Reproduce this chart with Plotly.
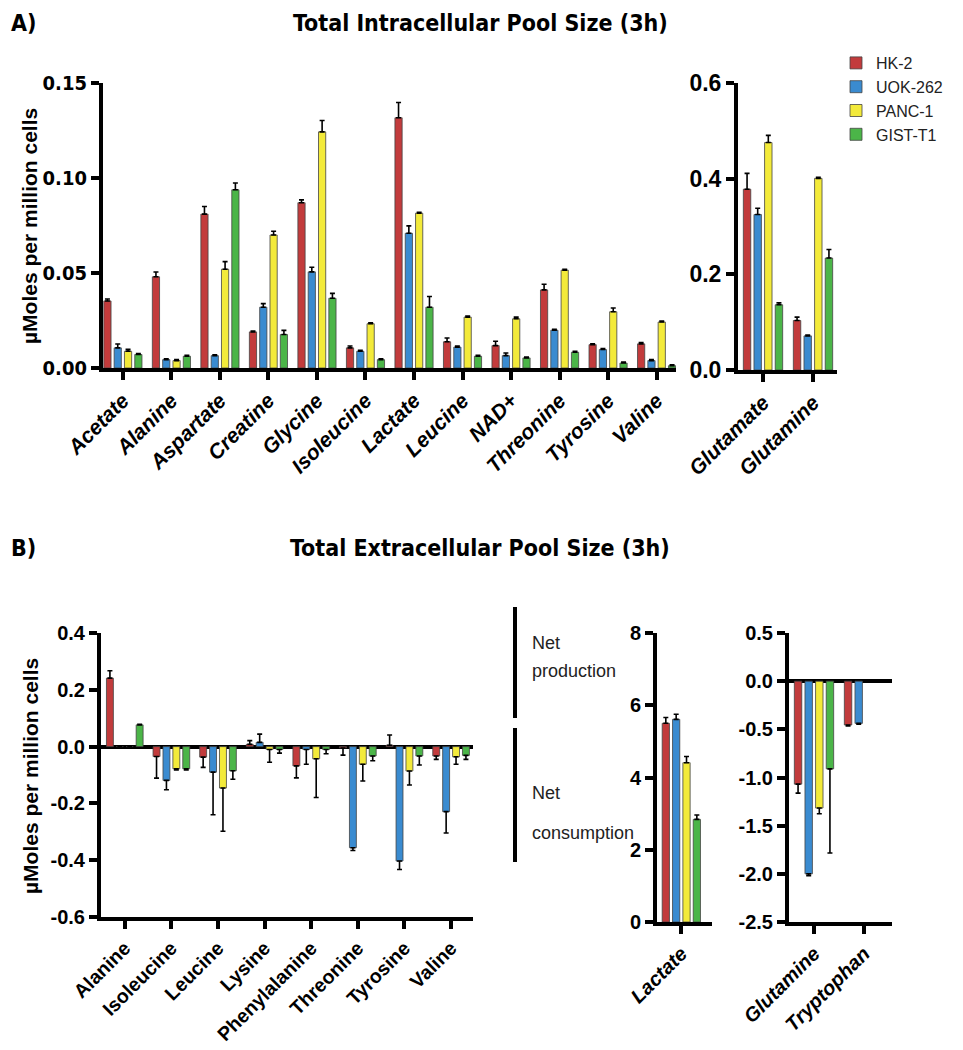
import plotly.graph_objects as go

# page body has an 8px default margin; keep the figure inside the window
OFF = 8
W, H = 963 - 2 * OFF, 1050 - 2 * OFF

series = ["HK-2", "UOK-262", "PANC-1", "GIST-T1"]
colors = ["#c23b3c", "#3a8bd0", "#f3ea3a", "#4bb548"]

# ---------- Panel A: intracellular ----------
cats_a = ["Acetate", "Alanine", "Aspartate", "Creatine", "Glycine", "Isoleucine",
          "Lactate", "Leucine", "NAD+", "Threonine", "Tyrosine", "Valine"]
hk2_a = [0.0353, 0.048, 0.081, 0.019, 0.087, 0.0106, 0.1317, 0.0138, 0.0118, 0.0411, 0.0123, 0.0127]
hk2_a_err = [0.001, 0.0025, 0.004, 0.0005, 0.0015, 0.001, 0.008, 0.002, 0.0023, 0.003, 0.0005, 0.0007]
uok_a = [0.0106, 0.0044, 0.0065, 0.032, 0.0506, 0.0088, 0.0709, 0.011, 0.0065, 0.0199, 0.0097, 0.0039]
uok_a_err = [0.002, 0.0005, 0.0005, 0.0019, 0.0024, 0.0005, 0.0039, 0.0005, 0.0014, 0.0005, 0.0005, 0.0005]
panc_a = [0.0088, 0.0039, 0.052, 0.070, 0.1243, 0.0233, 0.0815, 0.0268, 0.0259, 0.0515, 0.0296, 0.0242]
panc_a_err = [0.001, 0.0005, 0.004, 0.002, 0.006, 0.0005, 0.0005, 0.0005, 0.0009, 0.0005, 0.002, 0.0005]
gist_a = [0.0071, 0.0062, 0.0938, 0.0176, 0.0367, 0.0044, 0.032, 0.0062, 0.0053, 0.0083, 0.0026, 0.0012]
gist_a_err = [0.0005, 0.0005, 0.0036, 0.0022, 0.0026, 0.0005, 0.0056, 0.0005, 0.0005, 0.0005, 0.0005, 0.0005]

cats_a2 = ["Glutamate", "Glutamine"]
hk2_a2 = [0.378, 0.1035]
hk2_a2_err = [0.033, 0.007]
uok_a2 = [0.325, 0.0713]
uok_a2_err = [0.013, 0.002]
panc_a2 = [0.4755, 0.4007]
panc_a2_err = [0.015, 0.002]
gist_a2 = [0.1364, 0.234]
gist_a2_err = [0.004, 0.018]

# ---------- Panel B: extracellular ----------
cats_b = ["Alanine", "Isoleucine", "Leucine", "Lysine", "Phenylalanine", "Threonine", "Tyrosine", "Valine"]
hk2_b = [0.241, -0.035, -0.037, 0.008, -0.068, -0.005, 0.005, -0.033]
hk2_b_err = [0.026, 0.076, 0.036, 0.013, 0.042, 0.025, 0.036, 0.012]
uok_b = [0.0, -0.119, -0.09, 0.015, -0.01, -0.356, -0.403, -0.229]
uok_b_err = [0.0, 0.033, 0.15, 0.029, 0.052, 0.010, 0.030, 0.075]
panc_b = [0.0, -0.078, -0.146, -0.01, -0.043, -0.062, -0.086, -0.036]
panc_b_err = [0.0, 0.004, 0.152, 0.045, 0.136, 0.059, 0.049, 0.026]
gist_b = [0.0765, -0.078, -0.085, -0.01, -0.01, -0.033, -0.033, -0.031]
gist_b_err = [0.002, 0.004, 0.030, 0.013, 0.015, 0.017, 0.032, 0.014]

cats_b2 = ["Lactate"]
hk2_b2 = [5.50]
hk2_b2_err = [0.16]
uok_b2 = [5.61]
uok_b2_err = [0.14]
panc_b2 = [4.41]
panc_b2_err = [0.17]
gist_b2 = [2.84]
gist_b2_err = [0.12]

cats_b3 = ["Glutamine", "Tryptophan"]
hk2_b3 = [-1.069, -0.455]
hk2_b3_err = [0.093, 0.01]
uok_b3 = [-2.0, -0.438]
uok_b3_err = [0.02, 0.01]
panc_b3 = [-1.317, None]
panc_b3_err = [0.059, 0.0]
gist_b3 = [-0.91, None]
gist_b3_err = [0.873, 0.0]

# tick labels
yt_a = [0.0, 0.05, 0.10, 0.15]
yt_a_txt = ["0.00", "0.05", "0.10", "0.15"]
yt_a2 = [0.0, 0.2, 0.4, 0.6]
yt_a2_txt = ["0.0", "0.2", "0.4", "0.6"]
yt_b = [-0.6, -0.4, -0.2, 0.0, 0.2, 0.4]
yt_b_txt = ["-0.6", "-0.4", "-0.2", "0.0", "0.2", "0.4"]
yt_b2 = [0, 2, 4, 6, 8]
yt_b2_txt = ["0", "2", "4", "6", "8"]
yt_b3 = [-2.5, -2.0, -1.5, -1.0, -0.5, 0.0, 0.5]
yt_b3_txt = ["-2.5", "-2.0", "-1.5", "-1.0", "-0.5", "0.0", "0.5"]

ARIAL = "Liberation Sans, Arial, sans-serif"
NARROW = "DejaVu Sans Condensed, Liberation Sans Narrow, Arial Narrow, sans-serif"


def px_x(p):
    return (p - OFF) / W


def px_y(p):
    return 1 - (p - OFF) / H


def err_dict(vals, errs):
    plus, minus = [], []
    for v, e in zip(vals, errs):
        if v is None:
            plus.append(0); minus.append(0)
        elif v >= 0:
            plus.append(e); minus.append(0)
        else:
            plus.append(0); minus.append(e)
    return dict(type="data", symmetric=False, array=plus, arrayminus=minus,
                color="black", thickness=1.6, width=2.5)


fig = go.Figure()

groups = [
    ("x", "y", cats_a, [(hk2_a, hk2_a_err), (uok_a, uok_a_err), (panc_a, panc_a_err), (gist_a, gist_a_err)], True),
    ("x2", "y2", cats_a2, [(hk2_a2, hk2_a2_err), (uok_a2, uok_a2_err), (panc_a2, panc_a2_err), (gist_a2, gist_a2_err)], False),
    ("x3", "y3", cats_b, [(hk2_b, hk2_b_err), (uok_b, uok_b_err), (panc_b, panc_b_err), (gist_b, gist_b_err)], False),
    ("x4", "y4", cats_b2, [(hk2_b2, hk2_b2_err), (uok_b2, uok_b2_err), (panc_b2, panc_b2_err), (gist_b2, gist_b2_err)], False),
    ("x5", "y5", cats_b3, [(hk2_b3, hk2_b3_err), (uok_b3, uok_b3_err), (panc_b3, panc_b3_err), (gist_b3, gist_b3_err)], False),
]

for xa, ya, cats, data, show in groups:
    for i, (vals, errs) in enumerate(data):
        fig.add_trace(go.Bar(
            x=cats, y=vals, name=series[i], xaxis=xa, yaxis=ya,
            marker=dict(color=colors[i], line=dict(color="#444", width=0.8)),
            error_y=err_dict(vals, errs), showlegend=show, legendgroup=series[i],
            offsetgroup=str(i),
        ))

axis_common = dict(showline=True, linecolor="black", linewidth=4, ticks="outside",
                   tickwidth=3.5, tickcolor="black", ticklen=8, showgrid=False,
                   zeroline=False, fixedrange=True, automargin=False)

lab_font_a = dict(family=ARIAL, size=21, color="black", weight="bold", style="italic")
lab_font_b = dict(family=ARIAL, size=19.5, color="black", weight="bold")
lab_font_b2 = dict(family=ARIAL, size=20, color="black", weight="bold", style="italic")

fig.update_layout(
    template="none",
    width=W, height=H, margin=dict(l=0, r=0, t=0, b=0, autoexpand=False),
    paper_bgcolor="white", plot_bgcolor="white",
    barmode="group", bargap=0.15, bargroupgap=0.3,
    showlegend=True,
    legend=dict(x=px_x(836), y=px_y(46), xanchor="left", yanchor="top",
                font=dict(family=ARIAL, size=16, color="#222"),
                itemwidth=30, tracegroupgap=0, bgcolor="rgba(0,0,0,0)"),
    xaxis=dict(axis_common, domain=[px_x(103), px_x(676)], range=[-0.41, 11.4],
               anchor="y", tickangle=-45, tickfont=lab_font_a),
    yaxis=dict(axis_common, domain=[px_y(368), px_y(83)], range=[0, 0.15], anchor="x",
               tickvals=yt_a, ticktext=yt_a_txt,
               tickfont=dict(family=NARROW, size=20, color="black", weight="bold")),
    xaxis2=dict(axis_common, domain=[px_x(738), px_x(837)], range=[-0.5, 1.48],
                anchor="y2", tickangle=-45, tickfont=lab_font_a),
    yaxis2=dict(axis_common, domain=[px_y(370), px_y(83)], range=[0, 0.6], anchor="x2",
                tickvals=yt_a2, ticktext=yt_a2_txt,
                tickfont=dict(family=ARIAL, size=23, color="black", weight="bold")),
    xaxis3=dict(axis_common, domain=[px_x(101), px_x(473)], range=[-0.51, 7.47],
                anchor="y3", tickangle=-45, tickfont=lab_font_b),
    yaxis3=dict(axis_common, domain=[px_y(917), px_y(633)], range=[-0.6, 0.4], anchor="x3",
                tickvals=yt_b, ticktext=yt_b_txt, zeroline=True, zerolinecolor="black",
                zerolinewidth=4,
                tickfont=dict(family=ARIAL, size=20, color="black", weight="bold")),
    xaxis4=dict(axis_common, domain=[px_x(657), px_x(712)], range=[-0.5, 0.63],
                anchor="y4", tickangle=-45, tickfont=lab_font_b2),
    yaxis4=dict(axis_common, domain=[px_y(922), px_y(633)], range=[0, 8], anchor="x4",
                tickvals=yt_b2, ticktext=yt_b2_txt,
                tickfont=dict(family=ARIAL, size=20, color="black", weight="bold")),
    xaxis5=dict(axis_common, domain=[px_x(789), px_x(892)], range=[-0.5, 1.56],
                anchor="y5", tickangle=-45, tickfont=lab_font_b2),
    yaxis5=dict(axis_common, domain=[px_y(922), px_y(633)], range=[-2.5, 0.5], anchor="x5",
                tickvals=yt_b3, ticktext=yt_b3_txt, zeroline=True, zerolinecolor="black",
                zerolinewidth=4,
                tickfont=dict(family=ARIAL, size=20, color="black", weight="bold")),
)

title_font = dict(family=NARROW, size=23, color="black", weight="bold")
ytitle_font = dict(family=ARIAL, size=21, color="black", weight="bold")
net_font = dict(family=ARIAL, size=18, color="#222")

annotations = [
    dict(text="A)", x=px_x(9), y=px_y(23), xanchor="left", yanchor="middle", font=title_font),
    dict(text="Total Intracellular Pool Size (3h)", x=px_x(480), y=px_y(23), xanchor="center",
         yanchor="middle", font=title_font),
    dict(text="B)", x=px_x(9), y=px_y(548), xanchor="left", yanchor="middle", font=title_font),
    dict(text="Total Extracellular Pool Size (3h)", x=px_x(480), y=px_y(548), xanchor="center",
         yanchor="middle", font=title_font),
    dict(text="µMoles per million cells", x=px_x(30), y=px_y(226), textangle=-90,
         xanchor="center", yanchor="middle", font=ytitle_font),
    dict(text="µMoles per million cells", x=px_x(30), y=px_y(776), textangle=-90,
         xanchor="center", yanchor="middle", font=ytitle_font),
    dict(text="Net", x=px_x(530), y=px_y(643), xanchor="left", yanchor="middle", font=net_font),
    dict(text="production", x=px_x(530), y=px_y(671), xanchor="left", yanchor="middle", font=net_font),
    dict(text="Net", x=px_x(530), y=px_y(793), xanchor="left", yanchor="middle", font=net_font),
    dict(text="consumption", x=px_x(530), y=px_y(833), xanchor="left", yanchor="middle", font=net_font),
]
for a in annotations:
    a.update(xref="paper", yref="paper", showarrow=False)
fig.update_layout(annotations=annotations)

fig.update_layout(shapes=[
    dict(type="line", xref="paper", yref="paper", x0=px_x(515), x1=px_x(515),
         y0=px_y(607), y1=px_y(718), line=dict(color="black", width=4)),
    dict(type="line", xref="paper", yref="paper", x0=px_x(515), x1=px_x(515),
         y0=px_y(728), y1=px_y(862), line=dict(color="black", width=4)),
])

fig.write_html("out.html")
